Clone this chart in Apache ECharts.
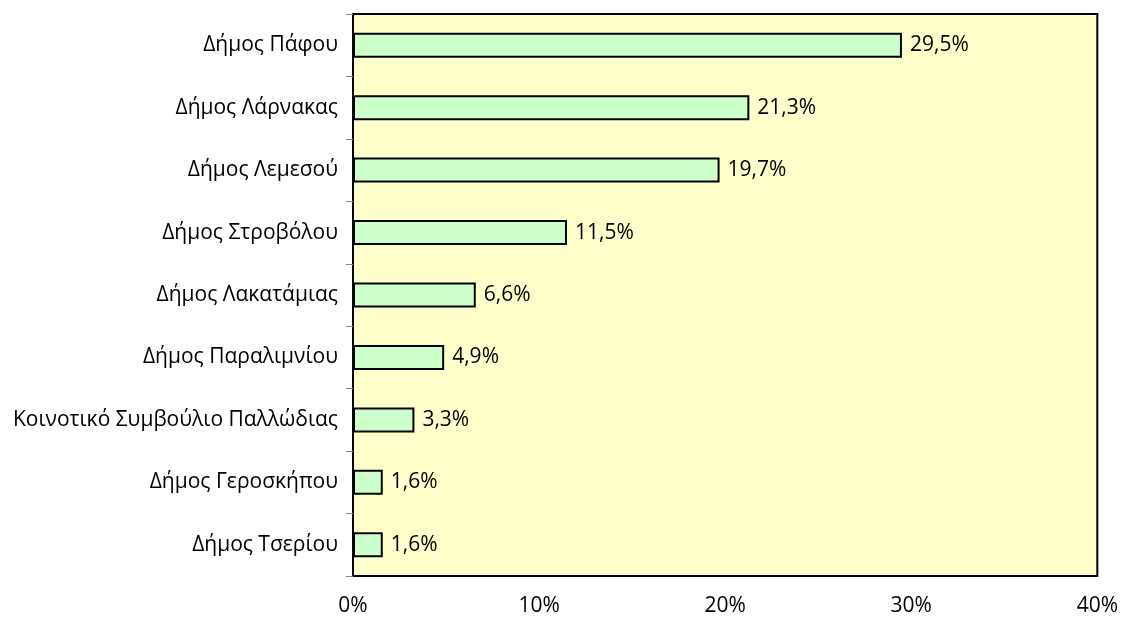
<!DOCTYPE html>
<html>
<head>
<meta charset="utf-8">
<script src="https://cdn.jsdelivr.net/npm/echarts@6/dist/echarts.min.js"></script>
<style>
  html, body { margin: 0; padding: 0; background: #fff; }
  #chart { width: 1121px; height: 617px; }
</style>
</head>
<body>
<div id="chart"></div>
<script>
var categories = [
  "Δήμος Πάφου",
  "Δήμος Λάρνακας",
  "Δήμος Λεμεσού",
  "Δήμος Στροβόλου",
  "Δήμος Λακατάμιας",
  "Δήμος Παραλιμνίου",
  "Κοινοτικό Συμβούλιο Παλλώδιας",
  "Δήμος Γεροσκήπου",
  "Δήμος Τσερίου"
];
var shares = [29.5, 21.3, 19.7, 11.5, 6.6, 4.9, 3.3, 1.6, 1.6];
var xTicks = [0, 10, 20, 30, 40];

var chart = echarts.init(document.getElementById("chart"));
var font = "'Open Sans', 'Noto Sans', sans-serif";
var option = {
  animation: false,
  grid: {
    left: 353,
    right: 23,
    top: 14,
    bottom: 39,
    show: true,
    backgroundColor: "#FFFFCC",
    borderColor: "#000",
    borderWidth: 2
  },
  xAxis: {
    type: "value",
    min: xTicks[0],
    max: xTicks[xTicks.length - 1],
    interval: 10,
    axisLine: { show: false },
    axisTick: { show: false },
    splitLine: { show: false },
    axisLabel: {
      color: "#000",
      fontSize: 21,
      fontFamily: font,
      margin: 20,
      formatter: "{value}%"
    }
  },
  yAxis: {
    type: "category",
    inverse: true,
    data: categories,
    axisLine: { show: true, lineStyle: { color: "#000", width: 2 } },
    axisTick: { show: true, length: 7, lineStyle: { color: "#888" } },
    axisLabel: {
      color: "#000",
      fontSize: 21,
      fontFamily: font,
      margin: 15
    }
  },
  series: [
    {
      type: "bar",
      data: shares,
      barWidth: "40%",
      itemStyle: { color: "#CCFFCC", borderColor: "#000", borderWidth: 2 },
      label: {
        show: true,
        position: "right",
        distance: 8,
        color: "#000",
        fontSize: 21,
        fontFamily: font,
        formatter: function (p) {
          return p.value.toFixed(1).replace(".", ",") + "%";
        }
      }
    }
  ]
};
chart.setOption(option);
</script>
</body>
</html>
